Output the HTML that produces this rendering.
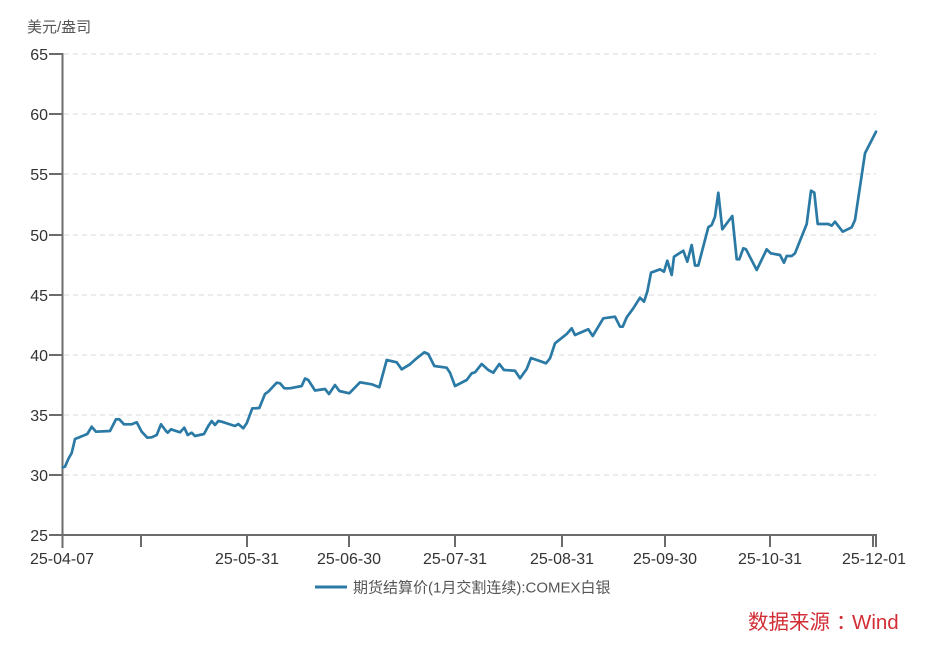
<!DOCTYPE html>
<html>
<head>
<meta charset="utf-8">
<style>
  html,body{margin:0;padding:0;background:#ffffff;}
  body{width:938px;height:650px;overflow:hidden;}
  svg{display:block;}
  text{font-family:"Liberation Sans","Noto Sans CJK SC",sans-serif;}
</style>
</head>
<body>
<svg width="938" height="650" viewBox="0 0 938 650" xmlns="http://www.w3.org/2000/svg">
  <rect x="0" y="0" width="938" height="650" fill="#ffffff"/>
  <!-- unit label -->
  <text x="27" y="32" font-size="15" fill="#555">美元/盎司</text>

  <!-- gridlines -->
  <g stroke="#d9d9d9" stroke-width="1" stroke-dasharray="5,4">
    <line x1="64" y1="54" x2="876" y2="54"/>
    <line x1="64" y1="114" x2="876" y2="114"/>
    <line x1="64" y1="174" x2="876" y2="174"/>
    <line x1="64" y1="235" x2="876" y2="235"/>
    <line x1="64" y1="295" x2="876" y2="295"/>
    <line x1="64" y1="355" x2="876" y2="355"/>
    <line x1="64" y1="415" x2="876" y2="415"/>
    <line x1="64" y1="475" x2="876" y2="475"/>
  </g>

  <!-- axes -->
  <g stroke="#6b6b6b" stroke-width="2" fill="none">
    <line x1="62.5" y1="53" x2="62.5" y2="548"/>
    <line x1="62" y1="535" x2="876" y2="535"/>
    <!-- y ticks -->
    <line x1="49" y1="54" x2="62" y2="54"/>
    <line x1="49" y1="114" x2="62" y2="114"/>
    <line x1="49" y1="174" x2="62" y2="174"/>
    <line x1="49" y1="235" x2="62" y2="235"/>
    <line x1="49" y1="295" x2="62" y2="295"/>
    <line x1="49" y1="355" x2="62" y2="355"/>
    <line x1="49" y1="415" x2="62" y2="415"/>
    <line x1="49" y1="475" x2="62" y2="475"/>
    <line x1="49" y1="535" x2="62" y2="535"/>
    <!-- x ticks -->
    <line x1="141" y1="535" x2="141" y2="547"/>
    <line x1="247" y1="535" x2="247" y2="547"/>
    <line x1="349" y1="535" x2="349" y2="547"/>
    <line x1="455" y1="535" x2="455" y2="547"/>
    <line x1="562" y1="535" x2="562" y2="547"/>
    <line x1="665" y1="535" x2="665" y2="547"/>
    <line x1="770" y1="535" x2="770" y2="547"/>
    <line x1="873" y1="535" x2="873" y2="547"/>
    <line x1="876" y1="534" x2="876" y2="547"/>
  </g>

  <!-- y labels -->
  <g font-size="16" fill="#333" text-anchor="end">
    <text x="48" y="60">65</text>
    <text x="48" y="120">60</text>
    <text x="48" y="180">55</text>
    <text x="48" y="241">50</text>
    <text x="48" y="301">45</text>
    <text x="48" y="361">40</text>
    <text x="48" y="421">35</text>
    <text x="48" y="481">30</text>
    <text x="48" y="541">25</text>
  </g>

  <!-- x labels -->
  <g font-size="16" fill="#333" text-anchor="middle">
    <text x="62" y="564">25-04-07</text>
    <text x="247" y="564">25-05-31</text>
    <text x="349" y="564">25-06-30</text>
    <text x="455" y="564">25-07-31</text>
    <text x="562" y="564">25-08-31</text>
    <text x="665" y="564">25-09-30</text>
    <text x="770" y="564">25-10-31</text>
    <text x="874" y="564">25-12-01</text>
  </g>

  <!-- series -->
  <polyline fill="none" stroke="#2a7aa5" stroke-width="2.7" stroke-linejoin="round" stroke-linecap="round"
    points="62.7,467.3 65,466.7 68.3,459 71.7,453 75,439 80,437 87.3,434 91.7,426.7 96,431.7 110,431 116,419.3 119.3,419.3 124,424.3 131.7,424.3 136.7,422.3 141.7,431.7 147.3,437.7 151.7,437.3 156.7,435 161,424.3 166,431 167.7,432.7 171,429.3 180,432.3 184.3,427.7 187.7,435 191.7,432.7 195,436 204,434 208.3,426 211.7,421 215,425 218.3,421 221.7,421.7 235,426 238.3,424 243.3,428.3 246.7,423.3 252.3,408.3 255,408.3 259.3,408 265,394 268.3,391.7 276.7,382.7 280,383.3 284.3,388.3 290,388.3 301.7,386 305,378.5 308.3,380 315,390.5 325,389 329,394 335,385 339.3,391 349.3,393.3 360,382.3 371.7,384.3 379.3,387.3 386.7,360 396.7,362.3 401.7,369.3 410,364.3 416.7,358.3 424.3,352.3 428.3,354 434.3,366 446.7,367.7 450,372.7 455,386 466.7,380 471.7,373.3 475,372.3 481.7,364 488.3,370 493.3,372.7 499.3,364 504,370 515,370.7 520,378.3 526.7,369 531,358 541.7,361.7 546,363.3 550,358.3 555,343.3 563.3,336.7 566.7,334 571.7,328.3 575,335 588.3,329.3 592.7,336 598.3,326.7 603.3,318.3 615,316.7 620,326.7 622.7,326.7 626.7,317.3 633.3,308.3 640,297.7 644,301.7 647.3,291.7 651,272.7 660,269.3 664,271.7 667.3,260.7 671.7,275 674,256.7 683.3,250.7 687.3,261.7 691.7,245 695,265.5 698.3,265.5 708.3,227.3 711.7,225 715,216.7 718.3,192.7 722.3,229.3 732.3,216 736.7,259.3 739.3,259.3 743.3,248.3 746,249.3 756.7,270 766.7,249.3 770.7,253.3 780,255 784,262.7 786.7,256 791.7,256 795,253.3 806.7,224 811,190.7 814.3,192.7 817.7,224 828.3,224 831.7,225.7 835,221.7 842.7,231.7 851.7,227.3 855,220 865,153.3 876,131.7"/>

  <!-- legend -->
  <line x1="315" y1="587" x2="347" y2="587" stroke="#2a7aa5" stroke-width="3"/>
  <text x="353" y="592.5" font-size="15" fill="#555">期货结算价(1月交割连续):COMEX白银</text>

  <!-- source -->
  <text x="748" y="629" font-size="20.5" fill="#d22d35">数据来源<tspan dx="6">：</tspan><tspan x="852">Wind</tspan></text>
</svg>
</body>
</html>
